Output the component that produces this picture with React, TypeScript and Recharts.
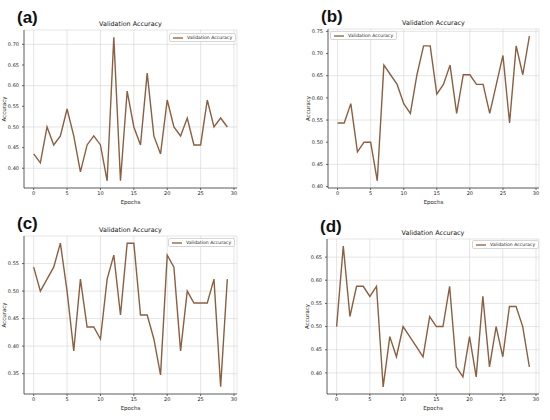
import React from "react";
import {
  LineChart,
  Line,
  XAxis,
  YAxis,
  CartesianGrid,
  Legend,
  Label,
} from "recharts";

const epochs = Array.from({ length: 30 }, (_, i) => i);

const accA = [
  0.4348, 0.413, 0.5, 0.4565, 0.4783, 0.5435, 0.4783, 0.3913, 0.4565, 0.4783,
  0.4565, 0.3696, 0.7174, 0.3696, 0.587, 0.5, 0.4565, 0.6304, 0.4783, 0.4348,
  0.5652, 0.5, 0.4783, 0.5217, 0.4565, 0.4565, 0.5652, 0.5, 0.5217, 0.5,
];
const accB = [
  0.5435, 0.5435, 0.587, 0.4783, 0.5, 0.5, 0.413, 0.6739, 0.6522, 0.6304,
  0.587, 0.5652, 0.6522, 0.7174, 0.7174, 0.6087, 0.6304, 0.6739, 0.5652, 0.6522,
  0.6522, 0.6304, 0.6304, 0.5652, 0.6304, 0.6957, 0.5435, 0.7174, 0.6522, 0.7391,
];
const accC = [
  0.5435, 0.5, 0.5217, 0.5435, 0.587, 0.5, 0.3913, 0.5217, 0.4348, 0.4348,
  0.413, 0.5217, 0.5652, 0.4565, 0.587, 0.587, 0.4565, 0.4565, 0.413, 0.3478,
  0.5652, 0.5435, 0.3913, 0.5, 0.4783, 0.4783, 0.4783, 0.5217, 0.3261, 0.5217,
];
const accD = [
  0.5, 0.6739, 0.5217, 0.587, 0.587, 0.5652, 0.587, 0.3696, 0.4783, 0.4348,
  0.5, 0.4783, 0.4565, 0.4348, 0.5217, 0.5, 0.5, 0.587, 0.413, 0.3913,
  0.4783, 0.3913, 0.5652, 0.413, 0.5, 0.4348, 0.5435, 0.5435, 0.5, 0.413,
];

const xTicks = [0, 5, 10, 15, 20, 25, 30];
const ticksA = [0.4, 0.45, 0.5, 0.55, 0.6, 0.65, 0.7];
const ticksB = [0.4, 0.45, 0.5, 0.55, 0.6, 0.65, 0.7, 0.75];
const ticksC = [0.35, 0.4, 0.45, 0.5, 0.55];
const ticksD = [0.4, 0.45, 0.5, 0.55, 0.6, 0.65];

const LINE = "#8b5f40";
const FRAME = "#444";
const FONT = "DejaVu Sans";
const X_DOMAIN: [number, number] = [-1.45, 30.45];

// matplotlib-style 5% margins around the data
function padDomain(vals: number[]): [number, number] {
  const lo = Math.min(...vals);
  const hi = Math.max(...vals);
  const m = (hi - lo) * 0.05;
  return [lo - m, hi + m];
}

function LegendBox() {
  return (
    <div
      style={{
        display: "flex",
        alignItems: "center",
        background: "#fff",
        border: "0.8px solid #d6d6d6",
        borderRadius: 2,
        padding: "1px 3px",
        fontFamily: FONT,
        fontSize: 4.6,
        color: "#222",
        whiteSpace: "nowrap",
        lineHeight: "5px",
      }}
    >
      <svg width={10} height={4} style={{ marginRight: 4 }}>
        <line x1={0} y1={2} x2={10} y2={2} stroke={LINE} strokeWidth={1.3} />
      </svg>
      Validation Accuracy
    </div>
  );
}

interface PanelProps {
  tag: string;
  values: number[];
  yTicks: number[];
  box: { l: number; t: number; r: number; b: number };
  legendAt: { x: number; y: number };
}

const Y_W = 24;
const M_TOP = 14;
const M_RIGHT = 4;
const X_H = 17;

function Panel({ tag, values, yTicks, box, legendAt }: PanelProps) {
  const data = epochs.map((e, i) => ({ epoch: e, acc: values[i] }));
  const yDomain = padDomain(values);
  const left = box.l - Y_W;
  const top = box.t - M_TOP;
  const width = Y_W + (box.r - box.l) + M_RIGHT;
  const height = M_TOP + (box.b - box.t) + X_H;
  const tickStyle = { fontSize: 5, fill: "#222", fontFamily: FONT };

  return (
    <>
      <div
        style={{
          position: "absolute",
          left: box.l - 7,
          top: box.t - 21,
          fontFamily: "Liberation Sans",
          fontWeight: "bold",
          fontSize: 17,
          color: "#111",
          lineHeight: "17px",
        }}
      >
        {tag}
      </div>
      <div
        style={{
          position: "absolute",
          left: box.l,
          width: box.r - box.l,
          top: box.t - 9,
          textAlign: "center",
          fontFamily: FONT,
          fontSize: 6.4,
          lineHeight: "7px",
          color: "#111",
        }}
      >
        Validation Accuracy
      </div>
      <div style={{ position: "absolute", left, top }}>
        <LineChart
          width={width}
          height={height}
          data={data}
          margin={{ top: M_TOP, right: M_RIGHT, bottom: 0, left: 0 }}
        >
          <CartesianGrid stroke="#d4d4d4" strokeWidth={0.6} />
          <XAxis
            dataKey="epoch"
            type="number"
            domain={X_DOMAIN}
            ticks={xTicks}
            allowDataOverflow
            height={X_H}
            tickSize={2}
            tickMargin={1}
            tick={tickStyle}
            stroke={FRAME}
            strokeWidth={0.8}
          >
            <Label
              value="Epochs"
              position="insideBottom"
              offset={1}
              style={{ fontSize: 5.5, fill: "#222", fontFamily: FONT }}
            />
          </XAxis>
          <XAxis
            xAxisId="top"
            orientation="top"
            dataKey="epoch"
            type="number"
            domain={X_DOMAIN}
            allowDataOverflow
            height={0}
            tick={false}
            tickLine={false}
            stroke={FRAME}
            strokeWidth={0.8}
          />
          <YAxis
            type="number"
            domain={yDomain}
            ticks={yTicks}
            allowDataOverflow
            width={Y_W}
            tickSize={2}
            tickMargin={3}
            tick={tickStyle}
            tickFormatter={(v: number) => v.toFixed(2)}
            stroke={FRAME}
            strokeWidth={0.8}
          >
            <Label
              value="Accuracy"
              angle={-90}
              position="insideLeft"
              offset={4}
              style={{ fontSize: 5.5, fill: "#222", fontFamily: FONT, textAnchor: "middle" }}
            />
          </YAxis>
          <YAxis
            yAxisId="right"
            orientation="right"
            type="number"
            domain={yDomain}
            allowDataOverflow
            width={0}
            tick={false}
            tickLine={false}
            stroke={FRAME}
            strokeWidth={0.8}
          />
          <Legend
            layout="vertical"
            align="center"
            verticalAlign="middle"
            wrapperStyle={{ left: legendAt.x, top: legendAt.y, width: "auto", height: "auto" }}
            content={() => <LegendBox />}
          />
          <Line
            type="linear"
            dataKey="acc"
            name="Validation Accuracy"
            stroke={LINE}
            strokeWidth={1.4}
            dot={false}
            isAnimationActive={false}
          />
        </LineChart>
      </div>
    </>
  );
}

export default function App() {
  return (
    <div
      style={{
        position: "absolute",
        left: 0,
        top: 0,
        width: 550,
        height: 420,
        background: "#fff",
        overflow: "hidden",
      }}
    >
      <Panel
        tag="(a)"
        values={accA}
        yTicks={ticksA}
        box={{ l: 24, t: 30, r: 237, b: 188 }}
        legendAt={{ x: 169, y: 17 }}
      />
      <Panel
        tag="(b)"
        values={accB}
        yTicks={ticksB}
        box={{ l: 328, t: 29, r: 539, b: 188 }}
        legendAt={{ x: 26, y: 16 }}
      />
      <Panel
        tag="(c)"
        values={accC}
        yTicks={ticksC}
        box={{ l: 24, t: 236, r: 237, b: 394 }}
        legendAt={{ x: 168, y: 16 }}
      />
      <Panel
        tag="(d)"
        values={accD}
        yTicks={ticksD}
        box={{ l: 327, t: 239, r: 539, b: 394 }}
        legendAt={{ x: 169, y: 15 }}
      />
    </div>
  );
}
